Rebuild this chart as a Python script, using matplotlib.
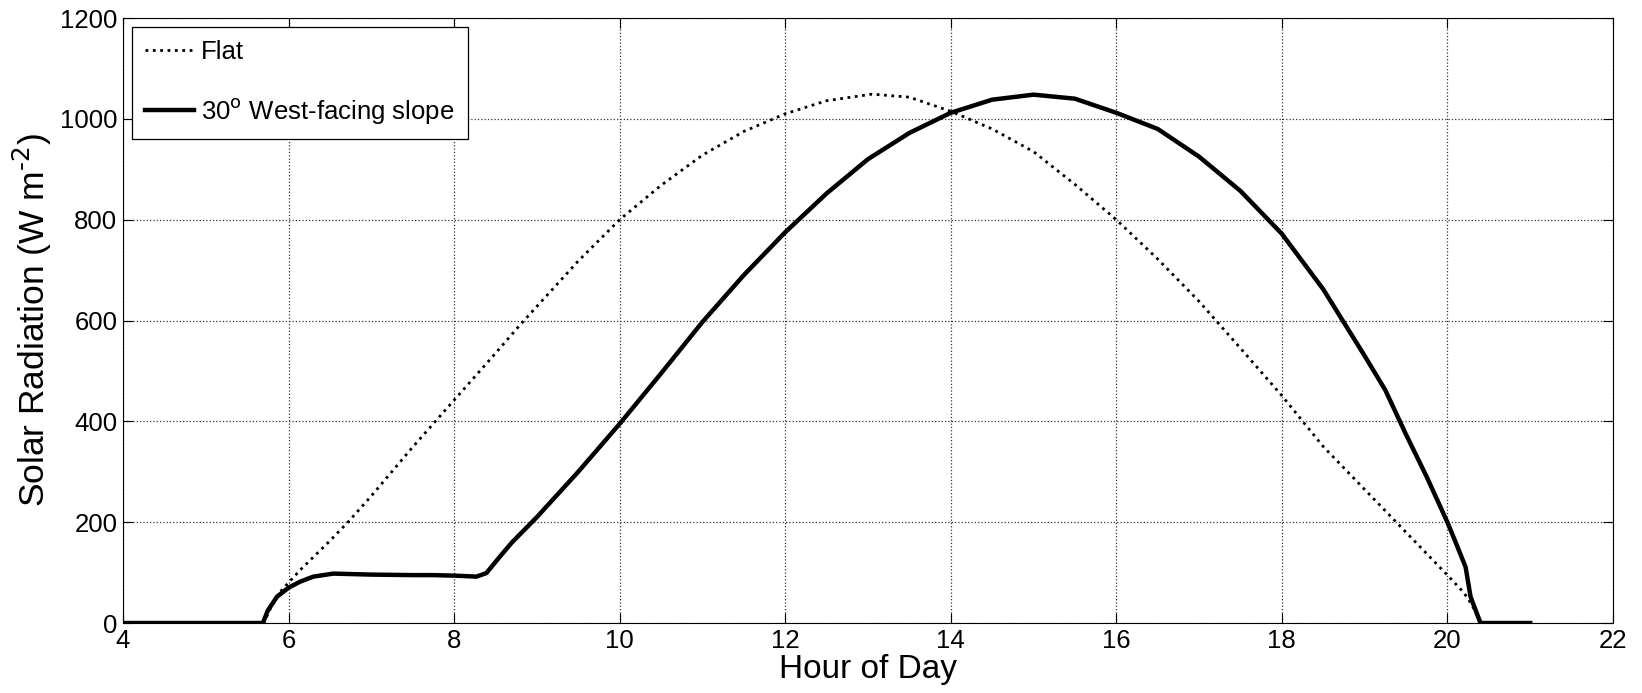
import numpy as np
import matplotlib.pyplot as plt

plt.rcParams['font.family'] = ['Liberation Sans', 'DejaVu Sans']

# hour of day / W m-2
flat_hour = [4.0, 5.7, 5.8, 5.9, 6.0, 6.14, 6.5, 6.74, 7.0, 7.5, 8.0, 8.5, 8.79,
             9.0, 9.5, 10.0, 10.5, 11.0, 11.5, 12.0, 12.5, 13.05, 13.5, 14.0,
             14.5, 15.0, 15.5, 16.0, 16.5, 17.0, 17.5, 18.0, 18.5, 19.0,
             19.5, 20.0, 20.2, 20.3, 20.4, 21.0]
flat_rad = [0, 0, 35, 62, 80, 105, 163, 204, 252, 349, 442, 535, 590,
            628, 718, 800, 868, 928, 975, 1010, 1036, 1049, 1043, 1015,
            980, 935, 870, 800, 722, 638, 545, 451, 350, 265,
            180, 95, 60, 35, 0, 0]

slope_hour = [4.0, 5.69, 5.75, 5.86, 6.0, 6.14, 6.3, 6.54, 7.0, 7.5, 7.74, 8.0,
              8.27, 8.39, 8.55, 8.7, 9.0, 9.5, 10.0, 10.5, 11.0, 11.5, 12.0,
              12.5, 13.0, 13.5, 14.0, 14.5, 15.0, 15.5, 16.0, 16.5, 17.0,
              17.5, 18.0, 18.5, 19.0, 19.25, 19.5, 19.75, 20.0, 20.1,
              20.22, 20.28, 20.4, 21.0]
slope_rad = [0, 0, 25, 52, 70, 82, 92, 98, 96, 95, 95, 94,
             92, 99, 131, 160, 210, 300, 395, 495, 597, 690, 775,
             852, 920, 972, 1012, 1038, 1048, 1040, 1012, 980, 925,
             857, 772, 662, 530, 462, 374, 290, 200, 160,
             111, 52, 0, 0]

fig = plt.figure(figsize=(16.42, 6.93), dpi=100)
ax = fig.add_axes([0.0749, 0.101, 0.9074, 0.873])

ax.plot(flat_hour, flat_rad, color='black', linestyle=':', linewidth=2, label='Flat')
ax.plot(slope_hour, slope_rad, color='black', linestyle='-', linewidth=3.2,
        label='30$^{\\mathrm{o}}$ West-facing slope')

ax.set_xlim(4, 22)
ax.set_ylim(0, 1200)
ax.set_xticks(np.arange(4, 23, 2))
ax.set_yticks(np.arange(0, 1201, 200))
ax.grid(True, linestyle=':', color='#333333', linewidth=0.9)
ax.tick_params(direction='in', top=True, right=True, labelsize=18.5, length=7, pad=4)
ax.set_xlabel('Hour of Day', fontsize=24, labelpad=1)
ax.set_ylabel('Solar Radiation (W m$^{\\text{-2}}$)', fontsize=25.5, labelpad=4)

leg = ax.legend(loc='upper left', fontsize=18.5, fancybox=False, edgecolor='black',
                framealpha=1, labelspacing=1.25, handlelength=1.9,
                borderaxespad=0.35, handletextpad=0.3, borderpad=0.5)
leg.get_frame().set_linewidth(0.9)

fig.savefig('out.png', dpi=100)
